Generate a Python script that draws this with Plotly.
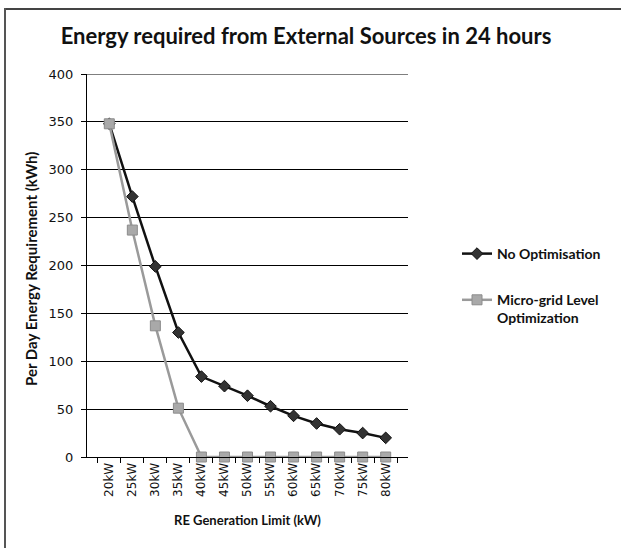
import plotly.graph_objects as go

limits = ["20kW", "25kW", "30kW", "35kW", "40kW", "45kW", "50kW",
          "55kW", "60kW", "65kW", "70kW", "75kW", "80kW"]
no_optimisation = [348, 272, 199, 130, 84, 74, 64, 53, 43, 35, 29, 25, 20]
microgrid_opt = [348, 237, 137, 51, 0, 0, 0, 0, 0, 0, 0, 0, 0]

W, H = 621, 548
L, R, T, B = 87, 408, 74, 457

fig = go.Figure()
fig.add_trace(go.Scatter(
    x=limits, y=no_optimisation, mode="lines+markers", name="No Optimisation",
    legendgroup="noopt",
    line=dict(color="#111111", width=2.5),
    marker=dict(symbol="diamond", size=9, color="#333333", line=dict(color="#111111", width=1)),
    cliponaxis=False,
))
fig.add_trace(go.Scatter(
    x=limits, y=microgrid_opt, mode="lines+markers", name="Micro-grid Level<br>Optimization",
    legendgroup="micro",
    line=dict(color="#9a9a9a", width=2.5),
    marker=dict(symbol="square", size=10, color="#a9a9a9", line=dict(color="#8c8c8c", width=1)),
    cliponaxis=False,
))

# outer frame (only top and left edges show in the picture)
pw, ph = R - L, B - T
def px(x): return (x - L) / pw
def py(y): return (B - y) / ph
fig.add_shape(type="line", xref="paper", yref="paper", layer="above",
              x0=px(5), y0=py(9), x1=px(W), y1=py(9),
              line=dict(color="#444444", width=2))
fig.add_shape(type="line", xref="paper", yref="paper", layer="above",
              x0=px(5), y0=py(8), x1=px(5), y1=py(H),
              line=dict(color="#555555", width=2))
# top gridline at 400
fig.add_shape(type="line", xref="paper", yref="y", x0=0, x1=1, y0=400, y1=400,
              line=dict(color="black", width=1))

fig.add_annotation(text="<b>Per Day Energy Requirement (kWh)</b>", textangle=-90,
                   xref="paper", yref="paper", x=px(31), y=py(269),
                   xanchor="center", yanchor="middle", showarrow=False,
                   font=dict(family="Lato", size=15, color="#111111"))

fig.update_layout(
    width=W, height=H,
    margin=dict(l=L, r=W - R, t=T, b=H - B, autoexpand=False),
    paper_bgcolor="white", plot_bgcolor="white",
    title=dict(text="<b>Energy required from External Sources in 24 hours</b>",
               x=px(306), xref="paper", xanchor="center", y=1 - 36 / H, yanchor="middle",
               font=dict(family="Lato", size=22, color="#111111")),
    showlegend=True,
    legend=dict(x=px(457), y=py(238), xanchor="left", yanchor="top", valign="top",
                font=dict(family="Lato", size=14, color="#111111", weight="bold"),
                tracegroupgap=25, bgcolor="rgba(0,0,0,0)"),
    font=dict(family="DejaVu Sans", size=12, color="#111111"),
)
fig.update_xaxes(
    type="category", tickangle=-90, tickson="boundaries", ticks="outside", ticklen=5,
    tickcolor="black", showline=True, linecolor="black", linewidth=1, showgrid=False,
    automargin=False, tickfont=dict(family="DejaVu Sans", size=12),
    title=dict(text="<b>RE Generation Limit (kW)</b>", standoff=20,
               font=dict(family="Lato", size=13)),
)
fig.update_yaxes(
    range=[0, 400], dtick=50, ticks="outside", ticklen=5, tickcolor="black",
    showline=True, linecolor="black", linewidth=1, showgrid=True, gridcolor="black",
    gridwidth=1, zeroline=False, automargin=False, ticklabelstandoff=5,
    tickfont=dict(family="DejaVu Sans", size=13),
)

fig.write_html("out.html", config={"displayModeBar": False},
               post_script="document.body.style.margin='0';")
